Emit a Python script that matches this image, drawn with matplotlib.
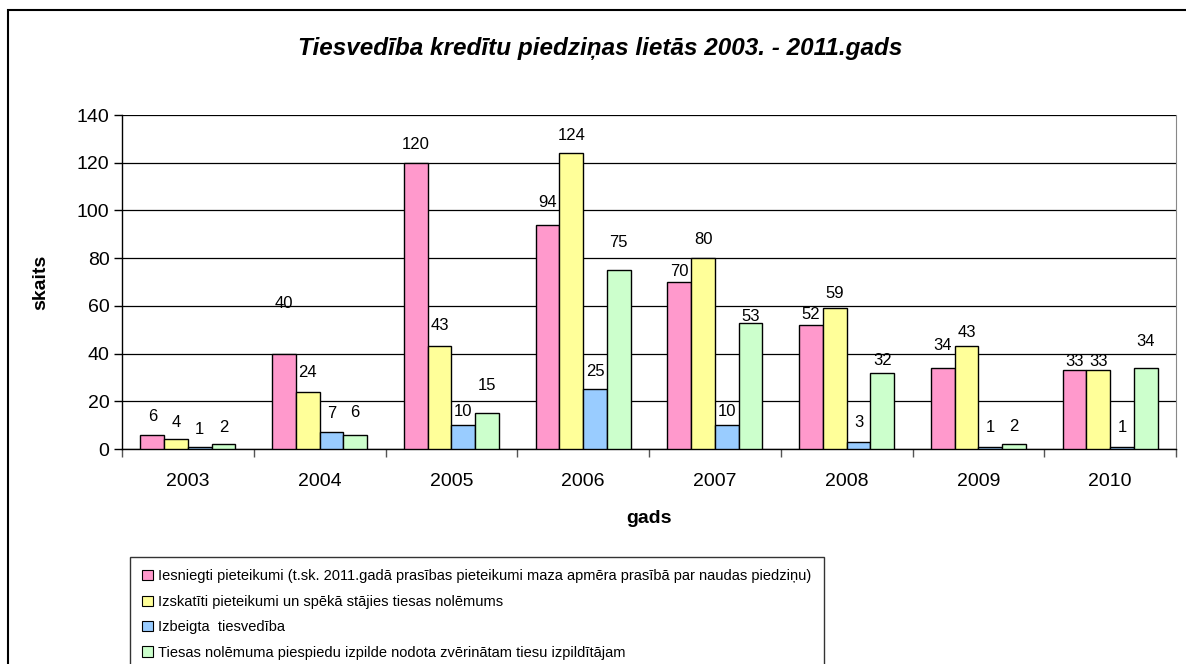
import matplotlib
matplotlib.use("Agg")
import matplotlib.pyplot as plt
from matplotlib.patches import Rectangle, Patch
import numpy as np

plt.rcParams['font.family'] = ['Liberation Sans', 'DejaVu Sans']

years = ["2003", "2004", "2005", "2006", "2007", "2008", "2009", "2010"]
series_names = [
    "Iesniegti pieteikumi (t.sk. 2011.gadā prasības pieteikumi maza apmēra prasībā par naudas piedziņu)",
    "Izskatīti pieteikumi un spēkā stājies tiesas nolēmums",
    "Izbeigta  tiesvedība",
    "Tiesas nolēmuma piespiedu izpilde nodota zvērinātam tiesu izpildītājam",
]
iesniegti = [6, 40, 120, 94, 70, 52, 34, 33]
izskatiti = [4, 24, 43, 124, 80, 59, 43, 33]
izbeigta = [1, 7, 10, 25, 10, 3, 1, 1]
izpilde = [2, 6, 15, 75, 53, 32, 2, 34]
series = [iesniegti, izskatiti, izbeigta, izpilde]
colors = ["#FF99CC", "#FFFF99", "#99CCFF", "#CCFFCC"]

# label offsets above bar tops (pixels), per series per year
label_offsets = [
    [18, 50, 18, 22, 10, 10, 22, 9],
    [17, 19, 21, 18, 19, 15, 14, 9],
    [17, 19, 14, 18, 14, 19, 19, 19],
    [17, 22, 28, 28, 6, 12, 18, 26],
]

W, H = 1186, 664
fig = plt.figure(figsize=(W / 100, H / 100), dpi=100)
ax = fig.add_axes([122 / W, 1 - 449 / H, (1176 - 122) / W, (449 - 115) / H])

x = np.arange(len(years))
bw = 0.18
for i, (vals, c) in enumerate(zip(series, colors)):
    pos = x - 0.5 + 0.14 + bw * (i + 0.5)
    ax.bar(pos, vals, width=bw, color=c, edgecolor="black", linewidth=1.0, zorder=3)
    for p, v, off in zip(pos, vals, label_offsets[i]):
        ax.annotate(str(v), (p, v), xytext=(0, off), textcoords="offset pixels",
                    ha="center", va="center", fontsize=12, zorder=4)

ax.set_xlim(-0.5, len(years) - 0.5)
ax.set_ylim(0, 140)
ax.set_yticks(np.arange(0, 141, 20))
ax.tick_params(axis="y", labelsize=14, direction="out", length=6, width=1, pad=3)
ax.set_xticks(x)
ax.set_xticklabels(years, fontsize=14)
ax.tick_params(axis="x", length=0, pad=17)
ax.set_xticks(np.arange(-0.5, len(years) + 0.5, 1), minor=True)
ax.tick_params(axis="x", which="minor", direction="out", length=6, width=1, color="#555555")
ax.grid(axis="y", color="black", linewidth=0.9, zorder=0)
ax.set_axisbelow(True)
for s in ["left", "bottom"]:
    ax.spines[s].set_color("black")
    ax.spines[s].set_linewidth(1)
ax.spines["right"].set_color("#888888")
ax.spines["top"].set_visible(False)

ax.set_xlabel("gads", fontsize=14, fontweight="bold", labelpad=15)
ax.set_ylabel("skaits", fontsize=14, fontweight="bold", labelpad=20)

fig.text(600 / W, 1 - 48 / H, "Tiesvedība kredītu piedziņas lietās 2003. - 2011.gads",
         ha="center", va="center", fontsize=17.5, fontweight="bold", fontstyle="italic")

# figure border
fig.patches.append(Rectangle((8 / W, -0.1), 2, 1.1 - 10 / H, transform=fig.transFigure,
                             fill=False, edgecolor="black", linewidth=1.5))

handles = [Patch(facecolor=c, edgecolor="black", linewidth=0.8) for c in colors]
leg = fig.legend(handles, series_names, loc="upper left",
                 bbox_to_anchor=(130 / W, 1 - 557 / H), fontsize=10.5,
                 frameon=True, fancybox=False, handlelength=0.7, handleheight=0.7,
                 handletextpad=0.4, labelspacing=0.78, borderpad=0.85, borderaxespad=0)
leg.get_frame().set_edgecolor("black")
leg.get_frame().set_linewidth(1)

fig.savefig("out.png", dpi=100)
